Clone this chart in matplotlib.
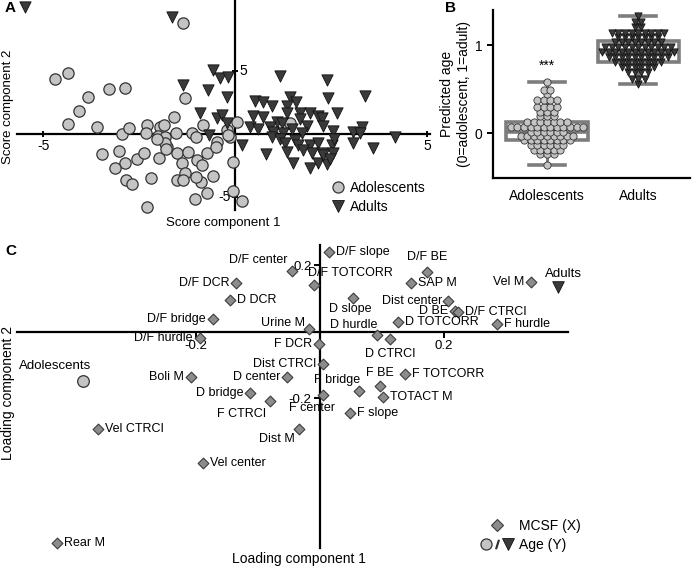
import numpy as np
import matplotlib
matplotlib.use("Agg")
import matplotlib.pyplot as plt
from matplotlib.lines import Line2D
from matplotlib.legend_handler import HandlerTuple

plt.rcParams['font.family'] = ['Liberation Sans', 'DejaVu Sans']

# ---------------- data ----------------
# Panel A: PLS scores
adol_x = [-4.69, -4.35, -3.28, -2.86, -3.83, -4.06, -4.35, -3.59, -2.94, -2.76,
          -2.29, -2.32, -1.95, -2.01, -1.59, -1.54, -1.30, -1.35, -3.46, -3.02,
          -2.86, -3.13, -2.55, -2.37, -1.82, -1.77, -1.82, -1.98, -1.51, -1.22,
          -1.38, -1.30, -0.99, -0.86, -0.73, -0.57, -0.89, -1.51, -1.35, -2.19,
          -2.84, -2.68, -0.73, -1.04, -2.29, -1.12, -1.02, -0.83, -0.47, -0.49,
          -0.21, 0.05, -0.13, -0.05, -0.05, 0.18, 1.43, -1.80, -1.85, -2.03,
          -0.18, -1.02]
adol_y = [4.37, 4.84, 3.57, 3.65, 2.94, 1.83, 0.79, 0.56, 0.00, 0.48,
          0.71, 0.08, 0.56, -0.16, 1.35, 0.08, 2.86, 8.81, -1.59, -1.35,
          -2.30, -2.70, -1.98, -1.51, -0.24, -1.03, -0.71, -1.90, -1.51, -1.43,
          -2.30, -3.10, -2.06, -2.46, -1.51, -3.33, -3.81, -3.65, -3.65, -3.49,
          -3.65, -3.97, -4.68, -5.16, -5.79, 0.08, -0.24, 0.71, -0.63, -1.03,
          0.32, 0.95, -0.24, -2.22, -4.52, -5.32, 0.87, -1.19, 0.71, -0.40,
          -0.08, -3.41]
adult_x = [-5.47, -1.64, -0.57, -0.39, -0.18, -1.35, -0.70, -0.21, -0.91, -0.47,
           -0.34, -0.21, -0.68, 0.18, 1.17, 2.40, 2.42, 3.39, 0.52, 0.73,
           0.96, 1.43, 1.59, 1.35, 1.35, 1.69, 1.95, 2.16, 2.66, 0.47,
           0.73, 1.09, 1.22, 1.69, 1.88, 2.27, 2.29, 0.39, 0.60, 0.91,
           0.99, 1.25, 1.48, 1.74, 2.55, 3.07, 3.31, 3.26, 4.17, 0.81,
           0.96, 1.17, 1.30, 1.56, 1.64, 1.95, 2.16, 2.53, 2.58, 1.35,
           1.77, 2.01, 2.27, 2.55, 3.07, 3.59, 1.51, 1.95, 2.16, 2.40,
           2.29, 2.47]
adult_y = [10.08, 9.29, 5.08, 4.44, 4.52, 3.89, 3.49, 2.94, 1.67, 1.27,
           1.51, 0.87, -0.08, -0.87, 4.60, 4.29, 2.86, 3.02, 2.62, 2.54,
           2.22, 2.94, 2.54, 2.22, 1.67, 1.67, 1.67, 1.43, 1.67, 1.43,
           1.35, 0.95, 0.87, 1.19, 0.63, 1.27, 0.63, 0.56, 0.40, 0.56,
           0.16, 0.08, 0.40, 0.08, 0.24, 0.16, 0.56, 0.08, -0.24, -1.59,
           -0.24, -0.40, -0.71, -0.48, -0.87, -0.87, -0.71, -0.87, -0.40, -1.43,
           -1.27, -1.51, -1.51, -1.51, -0.71, -1.11, -2.30, -2.70, -2.30, -2.38,
           -1.67, -1.98]

# Panel B: predicted age
groups_b = ['Adolescents', 'Adults']
pred_adol = [0.58, 0.49, 0.49, 0.45,
             0.375, 0.375, 0.375, 0.375,
             0.30, 0.30, 0.30, 0.30,
             0.24, 0.24, 0.24, 0.19, 0.19, 0.19,
             0.13, 0.13, 0.13, 0.13, 0.13, 0.13, 0.13,
             0.07, 0.07, 0.07, 0.07, 0.07, 0.07, 0.07, 0.07, 0.07, 0.07, 0.07, 0.07,
             0.015, 0.015, 0.015, 0.015, 0.015, 0.015,
             -0.03, -0.03, -0.03, -0.03, -0.03, -0.03, -0.03, -0.03, -0.03,
             -0.075, -0.075, -0.075, -0.075, -0.075, -0.075, -0.075, -0.075,
             -0.14, -0.14, -0.14, -0.14, -0.14, -0.14,
             -0.19, -0.19, -0.19, -0.19, -0.19,
             -0.24, -0.24, -0.24, -0.36]
pred_adult = [1.33, 1.265, 1.265, 1.21, 1.21,
              1.14, 1.14, 1.14, 1.14, 1.14, 1.14, 1.14, 1.14, 1.14,
              1.09, 1.09, 1.09, 1.09, 1.09, 1.09, 1.09,
              1.04, 1.04, 1.04, 1.04, 1.04, 1.04, 1.04, 1.04,
              0.98, 0.98, 0.98, 0.98, 0.98, 0.98, 0.98, 0.98, 0.98, 0.98, 0.98,
              0.92, 0.92, 0.92, 0.92, 0.92, 0.92, 0.92, 0.92, 0.92, 0.92, 0.92, 0.92,
              0.87, 0.87, 0.87, 0.87, 0.87, 0.87, 0.87, 0.87, 0.87, 0.87,
              0.81, 0.81, 0.81, 0.81, 0.81, 0.81, 0.81, 0.81,
              0.75, 0.75, 0.75, 0.75, 0.75, 0.75,
              0.70, 0.70, 0.70, 0.70,
              0.62, 0.62, 0.62, 0.56]

# Panel C: loadings
load_names = ['D/F slope', 'D/F center', 'D/F TOTCORR', 'D/F BE', 'SAP M', 'D/F DCR',
              'D DCR', 'D slope', 'Dist center', 'D BE', 'D/F CTRCI', 'D TOTCORR',
              'F hurdle', 'Vel M', 'D/F bridge', 'D/F hurdle', 'Urine M', 'D hurdle',
              'D CTRCI', 'F DCR', 'Dist CTRCI', 'Boli M', 'D center', 'F bridge',
              'F BE', 'F TOTCORR', 'TOTACT M', 'D bridge', 'F CTRCI', 'F center',
              'F slope', 'Dist M', 'Vel CTRCI', 'Vel center', 'Rear M']
load_x = [0.015, -0.045, -0.010, 0.173, 0.147, -0.135,
          -0.145, 0.053, 0.206, 0.218, 0.223, 0.126,
          0.285, 0.340, -0.173, -0.194, -0.018, 0.092,
          0.113, -0.002, 0.005, -0.208, -0.053, 0.063,
          0.097, 0.137, 0.102, -0.113, -0.081, 0.005,
          0.048, -0.034, -0.358, -0.189, -0.424]
load_y = [0.240, 0.183, 0.141, 0.180, 0.147, 0.147,
          0.096, 0.102, 0.093, 0.063, 0.060, 0.030,
          0.024, 0.150, 0.039, -0.018, 0.009, -0.009,
          -0.021, -0.036, -0.096, -0.135, -0.135, -0.177,
          -0.162, -0.126, -0.195, -0.183, -0.207, -0.189,
          -0.243, -0.291, -0.291, -0.393, -0.634]
age_names = ['Adolescents', 'Adults']
age_x = [-0.382, 0.384]
age_y = [-0.147, 0.135]

# label placement (offset in pixels, horizontal alignment)
R, L = (7, 0, 'left'), (-7, 0, 'right')
label_pos = {
    'D/F slope': R, 'D/F center': (-5, 11, 'right'), 'D/F TOTCORR': (-6, 12, 'left'),
    'D/F BE': (0, 15, 'center'), 'SAP M': R, 'D/F DCR': L, 'D DCR': R,
    'D slope': (-3, -11, 'center'), 'Dist center': (-6, 0, 'right'), 'D BE': (-7, 0, 'right'),
    'D/F CTRCI': R, 'D TOTCORR': R, 'F hurdle': R, 'Vel M': L, 'D/F bridge': L,
    'D/F hurdle': L, 'Urine M': (-4, 6, 'right'), 'D hurdle': (0, 10, 'right'),
    'D CTRCI': (0, -15, 'center'), 'F DCR': L, 'Dist CTRCI': L, 'Boli M': L,
    'D center': L, 'F bridge': (1, 11, 'right'), 'F BE': (0, 13, 'center'),
    'F TOTCORR': R, 'TOTACT M': R, 'D bridge': L, 'F CTRCI': (-4, -13, 'right'),
    'F center': (-11, -13, 'center'), 'F slope': R, 'Dist M': (-4, -10, 'right'),
    'Vel CTRCI': R, 'Vel center': R, 'Rear M': R,
}

circ_face, circ_edge = '#c4c4c4', '#333333'
tri_face, tri_edge = '#3a3a3a', '#111111'
dia_face, dia_edge = '#8c8c8c', '#3c3c3c'
box_col = '#7d7d7d'

W, H = 695, 568
fig = plt.figure(figsize=(W / 100, H / 100), dpi=100)


def px_axes(left, top, right, bottom):
    return fig.add_axes([left / W, 1 - bottom / H, (right - left) / W, (bottom - top) / H])


def cross_axes(ax):
    for s in ['top', 'right']:
        ax.spines[s].set_visible(False)
    for s in ['left', 'bottom']:
        ax.spines[s].set_position(('data', 0))
        ax.spines[s].set_linewidth(1.6)
    ax.patch.set_alpha(0)


# ---------------- Panel A ----------------
axA = px_axes(17, 0, 430, 210)
axA.set_xlim(-5.68, 5.08)
axA.set_ylim(-6.0, 10.63)
cross_axes(axA)
axA.set_xticks([-5, 5])
axA.set_xticklabels(['-5', '5'])
axA.set_yticks([-5, 5])
axA.set_yticklabels([])
axA.tick_params(direction='inout', length=5, width=1.4, labelsize=10, pad=1)
axA.annotate('5', (0, 5), xytext=(3, 0), textcoords='offset points', ha='left', va='center', fontsize=10)
axA.annotate('-5', (0, -5), xytext=(-3, 0), textcoords='offset points', ha='right', va='center', fontsize=10)
axA.scatter(adol_x, adol_y, s=66, marker='o', c=circ_face, edgecolors=circ_edge, linewidths=0.9,
            zorder=3, clip_on=False)
axA.scatter(adult_x, adult_y, s=66, marker='v', c=tri_face, edgecolors=tri_edge, linewidths=0.6,
            zorder=4, clip_on=False)
hA = [Line2D([], [], ls='', marker='o', ms=8, mfc=circ_face, mec=circ_edge, mew=0.9),
      Line2D([], [], ls='', marker='v', ms=8, mfc=tri_face, mec=tri_edge, mew=0.6)]
fig.legend(hA, ['Adolescents', 'Adults'], loc='upper left', bbox_to_anchor=(331 / W, 1 - 181 / H),
           frameon=False, fontsize=10, handlelength=1.0, handletextpad=0.4, labelspacing=0.35,
           borderpad=0, borderaxespad=0)
fig.text(8 / W, 1 - 107 / H, 'Score component 2', rotation=90, ha='center', va='center', fontsize=9.5)
fig.text(223 / W, 1 - 223 / H, 'Score component 1', ha='center', va='center', fontsize=9.5)
fig.text(5 / W, 1 - 8 / H, 'A', fontsize=11, fontweight='bold', ha='left', va='center')

# ---------------- Panel B ----------------
axB = px_axes(493, 10, 690, 178)
axB.set_xlim(-0.593, 1.57)
axB.set_ylim(-0.51, 1.40)
axB.boxplot([pred_adol, pred_adult], positions=[0, 1], widths=0.89, whis=(0, 100),
            showfliers=False, patch_artist=True, capwidths=0.4,
            boxprops=dict(facecolor='white', edgecolor=box_col, linewidth=2.6),
            medianprops=dict(color=box_col, linewidth=2.6),
            whiskerprops=dict(color=box_col, linewidth=2.2),
            capprops=dict(color=box_col, linewidth=2.6), zorder=1)

dx = 0.072
for pos, vals, mk, fc, ec in [(0, pred_adol, 'o', circ_face, circ_edge),
                              (1, pred_adult, 'v', tri_face, tri_edge)]:
    uv, cnt = np.unique(vals, return_counts=True)
    xs, ys = [], []
    for v, n in zip(uv, cnt):
        xs.extend(pos + (np.arange(n) - (n - 1) / 2) * dx)
        ys.extend([v] * n)
    axB.scatter(xs, ys, s=27, marker=mk, c=fc, edgecolors=ec, linewidths=0.6, zorder=3)

axB.text(0, 0.77, '***', ha='center', va='center', fontsize=10)
for s in ['top', 'right']:
    axB.spines[s].set_visible(False)
for s in ['left', 'bottom']:
    axB.spines[s].set_linewidth(1.6)
axB.set_xticks([0, 1])
axB.set_xticklabels(groups_b)
axB.set_yticks([0, 1])
axB.tick_params(axis='y', length=4, width=1.4, labelsize=10)
axB.tick_params(axis='x', length=0, labelsize=10, pad=8)
axB.set_ylabel('Predicted age\n(0=adolescent, 1=adult)', fontsize=10, labelpad=3)
fig.text(445 / W, 1 - 8 / H, 'B', fontsize=11, fontweight='bold', ha='left', va='center')

# ---------------- Panel C ----------------
axC = px_axes(17, 245, 568, 548)
axC.set_xlim(-0.489, 0.40)
axC.set_ylim(-0.649, 0.261)
cross_axes(axC)
axC.set_xticks([-0.2, 0.2])
axC.set_xticklabels(['-0.2', '0.2'])
axC.set_yticks([-0.2, 0.2])
axC.set_yticklabels(['-0.2', '0.2'])
axC.tick_params(direction='out', length=4, width=1.4, labelsize=9.5, pad=2)

axC.scatter(load_x, load_y, s=30, marker='D', c=dia_face, edgecolors=dia_edge, linewidths=0.8,
            zorder=3, clip_on=False)
for name, x, y in zip(load_names, load_x, load_y):
    ox, oy, ha = label_pos[name]
    axC.annotate(name, (x, y), xytext=(ox, oy), textcoords='offset pixels', ha=ha, va='center',
                 fontsize=9, zorder=4)

axC.scatter(age_x[:1], age_y[:1], s=70, marker='o', c=circ_face, edgecolors=circ_edge, linewidths=0.9,
            zorder=3)
axC.scatter(age_x[1:], age_y[1:], s=70, marker='v', c=tri_face, edgecolors=tri_edge, linewidths=0.6,
            zorder=3)
axC.annotate(age_names[0], (age_x[0], age_y[0]), xytext=(-28, 15), textcoords='offset pixels',
             ha='center', va='center', fontsize=9.5)
axC.annotate(age_names[1], (age_x[1], age_y[1]), xytext=(5, 13), textcoords='offset pixels',
             ha='center', va='center', fontsize=9.5)

h_dia = Line2D([], [], ls='', marker='D', ms=6, mfc=dia_face, mec=dia_edge, mew=0.8)
h_circ = Line2D([], [], ls='', marker='o', ms=8, mfc=circ_face, mec=circ_edge, mew=0.9)
h_sl = Line2D([], [], ls='', marker='$/$', ms=6, color='#333333')
h_tri = Line2D([], [], ls='', marker='v', ms=8, mfc=tri_face, mec=tri_edge, mew=0.6)
fig.legend([h_dia, (h_circ, h_sl, h_tri)], ['MCSF (X)', 'Age (Y)'],
           handler_map={tuple: HandlerTuple(ndivide=None, pad=0)},
           loc='upper left', bbox_to_anchor=(480 / W, 1 - 519 / H), frameon=False, fontsize=10,
           handlelength=2.4, handletextpad=0.4, labelspacing=0.35, borderpad=0, borderaxespad=0)

fig.text(8 / W, 1 - 393 / H, 'Loading component 2', rotation=90, ha='center', va='center', fontsize=10)
fig.text(299 / W, 1 - 559 / H, 'Loading component 1', ha='center', va='center', fontsize=10)
fig.text(5 / W, 1 - 251 / H, 'C', fontsize=11, fontweight='bold', ha='left', va='center')

fig.savefig('out.png', dpi=100)
